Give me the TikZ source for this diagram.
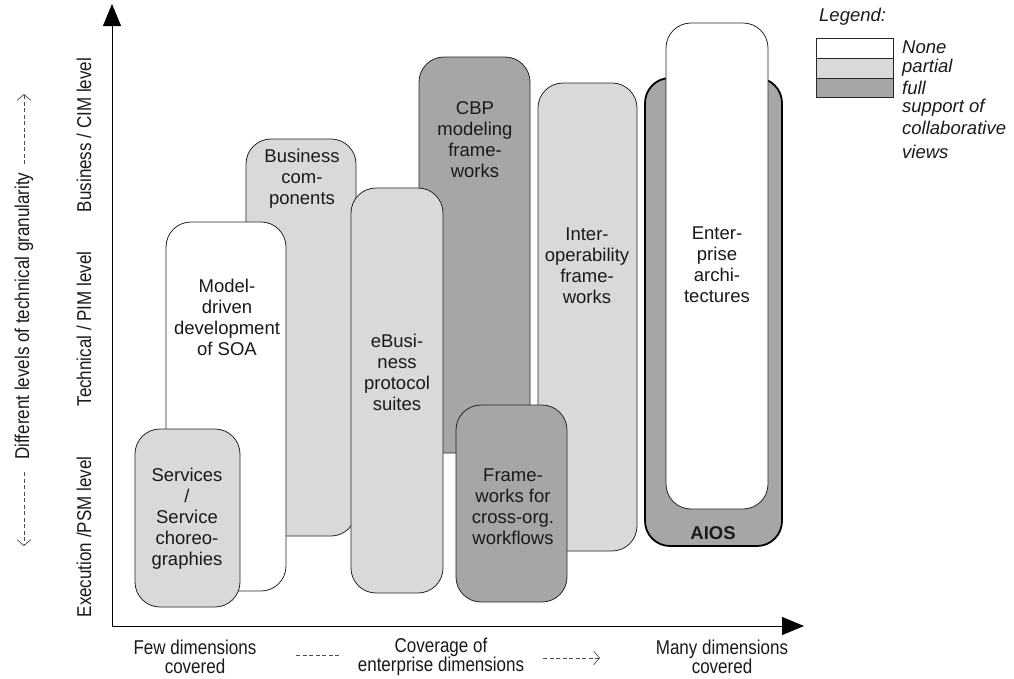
\documentclass[tikz,border=0pt]{standalone}
\usepackage{fontspec}
\setmainfont{Liberation Sans}
\newfontfamily\narrowsans[FakeStretch=0.85]{Liberation Sans}
\usetikzlibrary{arrows.meta}
\definecolor{lightg}{HTML}{D9D9D9}
\definecolor{darkg}{HTML}{A6A6A6}
\definecolor{ink}{HTML}{1A1A1A}
\begin{document}
\begin{tikzpicture}[x=1pt,y=-1pt,
  blk/.style={draw=black!85, line width=0.8pt, rounded corners=25pt, rectangle, anchor=north west, inner sep=0pt, outer sep=0pt},
  whitebox/.style={blk, fill=white},
  litebox/.style={blk, fill=lightg},
  darkbox/.style={blk, fill=darkg},
  txt/.style={align=center, text=ink, inner sep=0pt, font=\fontsize{18.5}{21}\selectfont},
  axlab/.style={text=ink, inner sep=0pt, font=\narrowsans\fontsize{20}{19}\selectfont},
  legtxt/.style={text=ink, inner sep=0pt, anchor=west, font=\fontsize{18.5}{20}\selectfont\itshape},
  dashy/.style={draw=black!70, line width=0.7pt, dash pattern=on 4pt off 2.5pt},
  barb/.style={-{Straight Barb[length=6pt,width=14pt,line width=0.7pt]}},
  axis/.style={draw=black, line width=1pt, -{Triangle[length=22pt,width=18pt]}}
]
\useasboundingbox (0,0) rectangle (1014,678);

% axes
\coordinate (O) at (112,626);
\coordinate (Ytop) at (112,4);
\coordinate (Xend) at (804,626);
\draw[axis] (112,627) -- (Ytop);
\draw[axis] (111.5,626) -- (Xend);

% boxes (back to front)
\node[litebox, minimum width=110pt, minimum height=397pt] (bc) at (246,139) {};
\node[txt] (bct) at (302,179) {Business\\com-\\ponents};

\node[whitebox, minimum width=120pt, minimum height=369pt] (md) at (166,222) {};
\node[txt] (mdt) at (227,317.5) {Model-\\driven\\development\\of SOA};

\node[litebox, minimum width=105pt, minimum height=178pt] (sv) at (135,429) {};
\node[txt] (svt) at (187,519) {Services\\/\\Service\\choreo-\\graphies};

\node[darkbox, minimum width=111pt, minimum height=396pt] (cbp) at (419,57) {};
\node[txt] (cbpt) at (475,139.5) {CBP\\modeling\\frame-\\works};

\node[litebox, minimum width=92pt, minimum height=405pt] (eb) at (351,188) {};
\node[txt] (ebt) at (397,372) {eBusi-\\ness\\protocol\\suites};

\node[litebox, minimum width=99pt, minimum height=468pt] (io) at (538,83) {};
\node[txt] (iot) at (587,266) {Inter-\\operability\\frame-\\works};

\node[darkbox, minimum width=111pt, minimum height=197pt] (fw) at (456,405) {};
\node[txt] (fwt) at (513,507) {Frame-\\works for\\cross-org.\\workflows};

\node[darkbox, draw=black, line width=1.8pt, minimum width=137pt, minimum height=468pt] (aios) at (645,78) {};
\node[txt, font=\fontsize{18.5}{21}\selectfont\bfseries] (aiost) at (713,533) {AIOS};

\node[whitebox, minimum width=102pt, minimum height=486pt] (ea) at (666,23) {};
\node[txt] (eat) at (717,264.5) {Enter-\\prise\\archi-\\tectures};

% vertical axis labels
\node[axlab, rotate=90] (l1) at (84,537) {Execution /PSM level};
\node[axlab, rotate=90] (l2) at (84,329) {Technical / PIM level};
\node[axlab, rotate=90] (l3) at (84,135) {Business / CIM level};
\node[axlab, rotate=90] (lg) at (24,316) {Different levels of technical granularity};
\coordinate (d1a) at (24,472);
\coordinate (d1b) at (24,546);
\coordinate (d2a) at (24,164);
\coordinate (d2b) at (24,94);
\draw[dashy, barb] (d1a) -- (d1b);
\draw[dashy, barb] (d2a) -- (d2b);

% horizontal axis labels
\node[axlab, align=center] (b1) at (195,656.5) {Few dimensions\\covered};
\node[axlab, align=center] (b2) at (441,656.5) {Coverage of\\enterprise dimensions};
\node[axlab, align=center] (b3) at (722,656.5) {Many dimensions\\covered};
\coordinate (h1a) at (296,655);
\coordinate (h1b) at (340,655);
\coordinate (h2a) at (543,658);
\coordinate (h2b) at (600,658);
\draw[dashy] (h1a) -- (h1b);
\draw[dashy, barb] (h2a) -- (h2b);

% legend
\node[legtxt] (legh) at (819,17) {Legend:};
\node[draw=black!85, line width=0.8pt, fill=white, anchor=north west, minimum width=77pt, minimum height=20pt, inner sep=0pt] (lw) at (816,38) {};
\node[draw=black!85, line width=0.8pt, fill=lightg, anchor=north west, minimum width=77pt, minimum height=20pt, inner sep=0pt] (ll) at (816,58) {};
\node[draw=black!85, line width=0.8pt, fill=darkg, anchor=north west, minimum width=77pt, minimum height=19pt, inner sep=0pt] (ld) at (816,78) {};
\node[legtxt] (t1) at (902,47) {None};
\node[legtxt] (t2) at (902,68) {partial};
\node[legtxt] (t3) at (902,88) {full};
\node[legtxt] (t4) at (902,108) {support of};
\node[legtxt] (t5) at (902,128) {collaborative};
\node[legtxt] (t6) at (902,152) {views};
\end{tikzpicture}
\end{document}
